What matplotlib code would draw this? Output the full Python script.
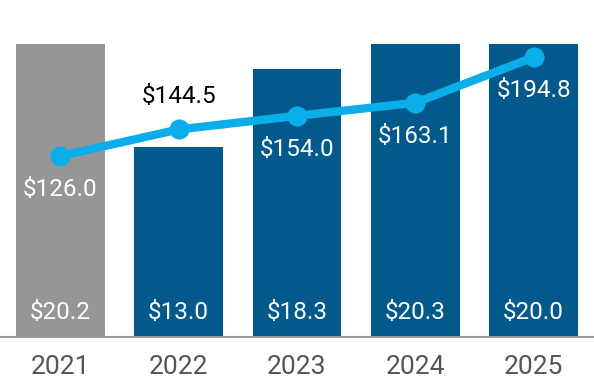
import matplotlib.pyplot as plt
import numpy as np

plt.rcParams['font.family'] = ['Roboto', 'DejaVu Sans']

years = ['2021', '2022', '2023', '2024', '2025']
bar_values = [20.2, 13.0, 18.3, 20.3, 20.0]
line_values = [126.0, 144.5, 154.0, 163.1, 194.8]
bar_colors = ['#969696', '#02598b', '#02598b', '#02598b', '#02598b']
# label placement for line points: white below or black above
line_label_above = [False, True, False, False, False]

fig = plt.figure(figsize=(5.94, 3.84), dpi=100)
ax = fig.add_axes([0, 0.1224, 1, 0.7630])
x = np.arange(len(years))

ax.bar(x, bar_values, width=0.75, color=bar_colors, zorder=1)
ax.set_xlim(-0.51, 4.51)
ax.set_ylim(0, 20.0)
for xi, v in zip(x, bar_values):
    ax.annotate('$%.1f' % v, (xi, 0), xytext=(0, 17.5), textcoords='offset points',
                ha='center', va='center', color='white', fontsize=17.5)

ax.set_xticks(x)
ax.set_xticklabels(years, fontsize=19, color='#555555')
ax.tick_params(axis='x', length=0, pad=13)
ax.set_yticks([])
for s in ['top', 'left', 'right']:
    ax.spines[s].set_visible(False)
ax.spines['bottom'].set_color('#9a9a9a')
ax.spines['bottom'].set_linewidth(1.5)

ax2 = ax.twinx()
ax2.set_ylim(0, 204)
ax2.plot(x, line_values, color='#0aaee8', linewidth=6, marker='o',
         markersize=13.5, zorder=3, solid_capstyle='round')
for xi, v, above in zip(x, line_values, line_label_above):
    if above:
        ax2.annotate('$%.1f' % v, (xi, v), xytext=(0, 23.5), textcoords='offset points',
                     ha='center', va='center', color='black', fontsize=17.5)
    else:
        ax2.annotate('$%.1f' % v, (xi, v), xytext=(0, -24), textcoords='offset points',
                     ha='center', va='center', color='white', fontsize=17.5)
ax2.set_yticks([])
for s in ['top', 'left', 'right', 'bottom']:
    ax2.spines[s].set_visible(False)

fig.savefig('out.png', dpi=100)
